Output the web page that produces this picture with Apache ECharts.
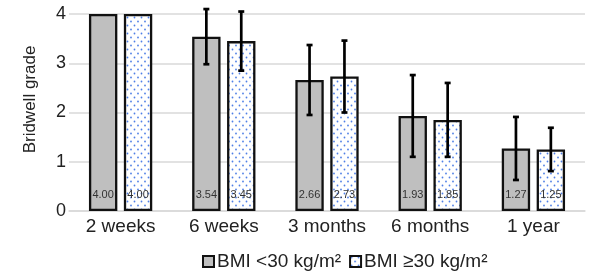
<!DOCTYPE html>
<html>
<head>
<meta charset="utf-8">
<script src="https://cdn.jsdelivr.net/npm/echarts@6/dist/echarts.min.js"></script>
<style>html,body{margin:0;padding:0;background:#fff;}</style>
</head>
<body>
<div id="main" style="width:609px;height:280px;"></div>
<script>
    var categories = ['2 weeks', '6 weeks', '3 months', '6 months', '1 year'];
    var seriesNames = ['BMI <30 kg/m²', 'BMI ≥30 kg/m²'];
    var lowBmi = [4.00, 3.54, 2.66, 1.93, 1.27];
    var highBmi = [4.00, 3.45, 2.73, 1.85, 1.25];
    // error bar half widths
    var lowBmiErr = [0, 0.56, 0.71, 0.83, 0.64];
    var highBmiErr = [0, 0.60, 0.73, 0.75, 0.44];
    var yTicks = [0, 1, 2, 3, 4];

    var BAR_W = 0.275, BAR_GAP = 0.23;

    // dotted fill for the second series
    var cv = document.createElement('canvas');
    cv.width = 7; cv.height = 8;
    var ctx = cv.getContext('2d');
    ctx.fillStyle = '#ffffff';
    ctx.fillRect(0, 0, 7, 8);
    ctx.fillStyle = '#4f7fe6';
    ctx.beginPath(); ctx.arc(1.5, 1.5, 0.9, 0, Math.PI * 2); ctx.fill();
    ctx.beginPath(); ctx.arc(5, 5.5, 0.9, 0, Math.PI * 2); ctx.fill();

    function errData(vals, errs) {
        var out = [];
        for (var i = 0; i < vals.length; i++) {
            out.push([i, vals[i] - errs[i], vals[i] + errs[i], errs[i]]);
        }
        return out;
    }

    function errRender(side) {
        return function (params, api) {
            if (api.value(3) === 0) return null;
            var band = api.size([1, 0])[0];
            var bw = band * BAR_W;
            var off = side * (bw + bw * BAR_GAP) / 2;
            var lo = api.coord([api.value(0), api.value(1)]);
            var hi = api.coord([api.value(0), api.value(2)]);
            var x = lo[0] + off;
            var cap = 3;
            var st = { stroke: '#000', lineWidth: 2.7 };
            return {
                type: 'group',
                children: [
                    { type: 'line', shape: { x1: x, y1: lo[1], x2: x, y2: hi[1] }, style: st },
                    { type: 'line', shape: { x1: x - cap, y1: lo[1], x2: x + cap, y2: lo[1] }, style: st },
                    { type: 'line', shape: { x1: x - cap, y1: hi[1], x2: x + cap, y2: hi[1] }, style: st }
                ]
            };
        };
    }

    var barLabel = {
        show: true,
        position: 'insideBottom',
        distance: 11,
        fontSize: 11,
        color: '#333',
        fontFamily: 'Liberation Sans',
        formatter: function (p) { return p.value.toFixed(2); }
    };

    var myChart = echarts.init(document.getElementById('main'));
    var option = {
        animation: false,
        textStyle: { fontFamily: 'Liberation Sans' },
        grid: { left: 69, right: 24, top: 14, bottom: 69 },
        legend: {
            data: seriesNames,
            bottom: 4,
            left: 197,
            itemWidth: 11,
            itemHeight: 11,
            itemGap: 8,
            icon: 'rect',
            textStyle: { fontSize: 19, color: '#222', padding: [0, 0, 0, -2] }
        },
        xAxis: {
            type: 'category',
            data: categories,
            axisLine: { lineStyle: { color: '#d9d9d9', width: 1.5 } },
            axisTick: { show: false },
            axisLabel: { fontSize: 19, color: '#222', margin: 6 }
        },
        yAxis: {
            type: 'value',
            min: yTicks[0],
            max: yTicks[yTicks.length - 1],
            interval: 1,
            name: 'Bridwell grade',
            nameLocation: 'middle',
            nameGap: 30,
            nameTextStyle: { fontSize: 17, color: '#222', padding: [0, 0, 0, 26] },
            axisLine: { show: false },
            axisTick: { show: false },
            axisLabel: { fontSize: 18, color: '#222', margin: 3 },
            splitLine: { lineStyle: { color: '#d9d9d9', width: 1.5 } }
        },
        series: [
            {
                name: seriesNames[0],
                type: 'bar',
                barWidth: (BAR_W * 100) + '%',
                barGap: (BAR_GAP * 100) + '%',
                data: lowBmi,
                itemStyle: { color: '#bfbfbf', borderColor: '#111', borderWidth: 2.3 },
                label: barLabel
            },
            {
                name: seriesNames[1],
                type: 'bar',
                barWidth: (BAR_W * 100) + '%',
                data: highBmi,
                itemStyle: { color: { image: cv, repeat: 'repeat' }, borderColor: '#111', borderWidth: 2.3 },
                label: barLabel
            },
            {
                type: 'custom',
                renderItem: errRender(-1),
                data: errData(lowBmi, lowBmiErr),
                z: 10,
                encode: { x: 0, y: [1, 2] }
            },
            {
                type: 'custom',
                renderItem: errRender(1),
                data: errData(highBmi, highBmiErr),
                z: 10,
                encode: { x: 0, y: [1, 2] }
            }
        ]
    };
    myChart.setOption(option);
</script>
</body>
</html>
